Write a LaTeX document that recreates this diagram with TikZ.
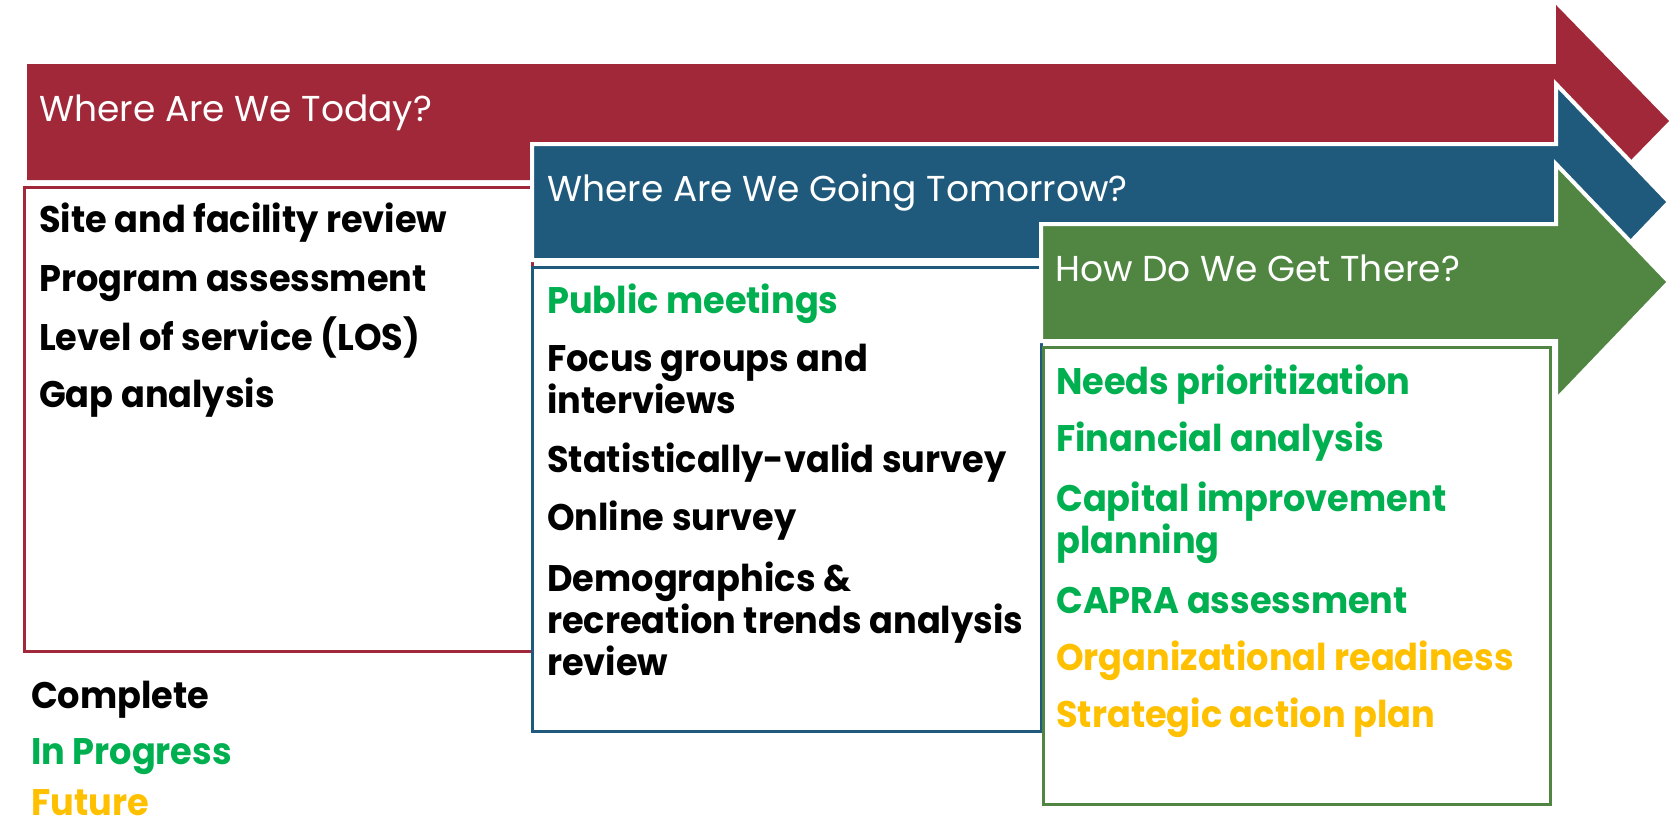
\documentclass[tikz,border=0pt]{standalone}
\usepackage{fontspec}
\setmainfont{Poppins}
\newfontfamily\titlefont{Poppins}
\newfontfamily\itemfont{Poppins}[FakeStretch=0.95]
\definecolor{arrred}{HTML}{A12838}
\definecolor{arrblue}{HTML}{1F5A7C}
\definecolor{arrgreen}{HTML}{508642}
\definecolor{txtgreen}{HTML}{00B050}
\definecolor{txtyellow}{HTML}{FFC000}
\newcommand{\twolines}[2]{\vtop{\hbox{#1}\hbox{#2}}}
\newcommand{\threelines}[3]{\vtop{\hbox{#1}\hbox{#2}\hbox{#3}}}
\tikzset{
  arrowshape/.style={draw=white, line width=4pt, line join=miter},
  listbox/.style={fill=white, line width=3pt},
  titletext/.style={anchor=base west, inner sep=0pt, text=white, font=\titlefont\fontsize{36}{43}\selectfont},
  itemtext/.style={anchor=base west, inner sep=0pt, font=\itemfont\bfseries\fontsize{37}{42}\selectfont},
  done/.style={itemtext, text=black},
  prog/.style={itemtext, text=txtgreen},
  fut/.style={itemtext, text=txtyellow}
}
\begin{document}
\begin{tikzpicture}[x=1pt, y=-1pt]
\useasboundingbox (0,0) rectangle (1669,825);
% red arrow
\fill[arrred] (27,64) -- (1556,64) -- (1556,5) -- (1669,121) -- (1556,237) -- (1556,180) -- (27,180) -- cycle;
\draw[listbox, draw=arrred] (24,187) rectangle (532,651);
% blue arrow
\filldraw[arrowshape, fill=arrblue] (532,144) -- (1556,144) -- (1556,84) -- (1669,202) -- (1556,320) -- (1556,260) -- (532,260) -- cycle;
\draw[listbox, draw=arrblue] (532,267) rectangle (1041,731);
% green arrow
\filldraw[arrowshape, fill=arrgreen] (1041,224) -- (1556,224) -- (1556,164) -- (1669,282) -- (1556,400) -- (1556,341) -- (1041,341) -- cycle;
\draw[listbox, draw=arrgreen] (1043,347) rectangle (1550,804);

% titles
\node[titletext] (t1) at (39,121) {Where Are We Today?};
\node[titletext] (t2) at (547,201) {Where Are We Going Tomorrow?};
\node[titletext] (t3) at (1055,281) {How Do We Get There?};

% red list
\node[done] (r1) at (39,232) {Site and facility review};
\node[done] (r2) at (39,291) {Program assessment};
\node[done] (r3) at (39,350) {Level of service (LOS)};
\node[done] (r4) at (39,407) {Gap analysis};

% blue list
\node[prog] (b1) at (547,313) {Public meetings};
\node[done] (b2) at (547,371) {\twolines{Focus groups and}{interviews}};
\node[done] (b3) at (547,472) {Statistically-valid survey};
\node[done] (b4) at (547,530) {Online survey};
\node[done] (b5) at (547,591) {\threelines{Demographics \&}{recreation trends analysis}{review}};

% green list
\node[prog] (g1) at (1056,394) {Needs prioritization};
\node[prog] (g2) at (1056,451) {Financial analysis};
\node[prog] (g3) at (1056,511) {\twolines{Capital improvement}{planning}};
\node[prog] (g4) at (1056,613) {CAPRA assessment};
\node[fut] (g5) at (1056,670) {Organizational readiness};
\node[fut] (g6) at (1056,727) {Strategic action plan};

% legend
\node[done] (l1) at (31,708) {Complete};
\node[prog] (l2) at (31,764) {In Progress};
\node[fut] (l3) at (31,815) {Future};
\end{tikzpicture}
\end{document}
